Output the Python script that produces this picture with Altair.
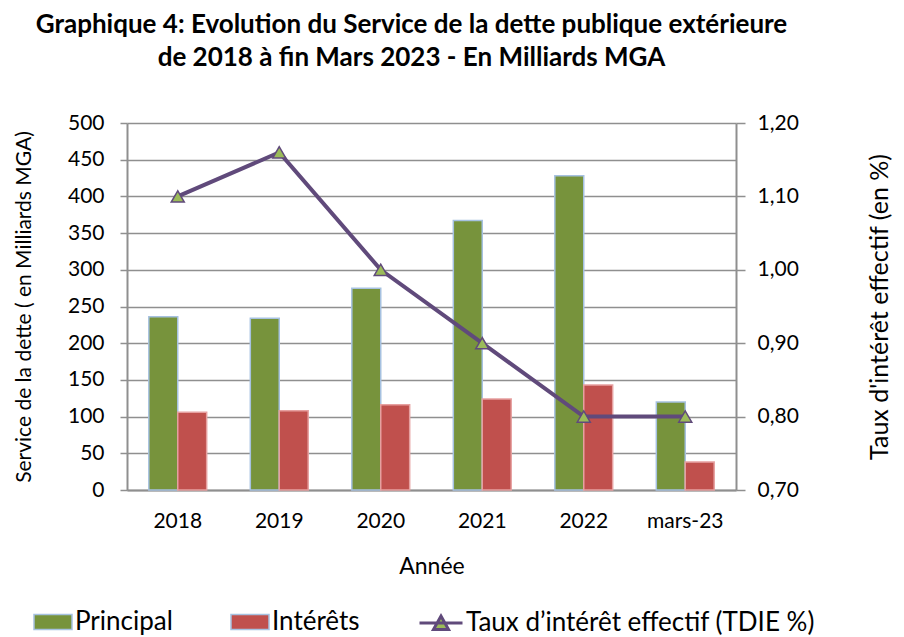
import altair as alt
import pandas as pd

annees = ["2018", "2019", "2020", "2021", "2022", "mars-23"]
principal = [236, 234, 275, 367, 428, 120]
interets = [106, 108, 116, 124, 143, 38]
taux = [1.10, 1.16, 1.00, 0.90, 0.80, 0.80]

serie_p = "Principal"
serie_i = "Intérêts"
serie_t = "Taux d’intérêt effectif (TDIE %)"

rows = []
for a, p, i in zip(annees, principal, interets):
    rows.append({"annee": a, "serie": serie_p, "valeur": p})
    rows.append({"annee": a, "serie": serie_i, "valeur": i})
bars_df = pd.DataFrame(rows)
line_df = pd.DataFrame({"annee": annees, "taux": taux, "s2": [serie_t] * len(annees)})

FONT = "Lato"
GRAY = "#8f8f8f"
xscale = alt.Scale(paddingInner=0.43, paddingOuter=0.215)
xenc = alt.X("annee:N", sort=annees, scale=xscale,
             axis=alt.Axis(title="Année", labelAngle=0, labelFontSize=21, titleFontSize=23,
                           titleFontWeight="normal", labelPadding=20, titlePadding=24,
                           ticks=False, domainColor=GRAY, domainWidth=2))

bars = alt.Chart(bars_df).mark_bar(strokeWidth=1.5).encode(
    x=xenc,
    xOffset=alt.XOffset("serie:N", sort=[serie_p, serie_i]),
    y=alt.Y("valeur:Q", scale=alt.Scale(domain=[0, 500], nice=False),
            axis=alt.Axis(title="Service de la dette ( en Milliards MGA)", values=list(range(0, 501, 50)),
                          labelFontSize=21, titleFontSize=21, titleFontWeight="normal",
                          tickSize=7, tickColor=GRAY, tickWidth=1.5, labelPadding=16,
                          titlePadding=33, grid=True, gridColor=GRAY, gridWidth=1.5,
                          domainColor=GRAY, domainWidth=2)),
    color=alt.Color("serie:N", scale=alt.Scale(domain=[serie_p, serie_i], range=["#77933c", "#c0504d"]),
                    legend=alt.Legend(title=None, orient="none", direction="horizontal",
                                      legendX=-94, legendY=479, labelFontSize=26, padding=0,
                                      labelLimit=500,
                                      symbolType="M-1,-0.395H1V0.395H-1Z", symbolSize=1444,
                                      symbolStrokeColor="#a6c1e0", symbolStrokeWidth=1.5,
                                      columnPadding=55, labelOffset=2)),
    stroke=alt.condition(alt.datum.serie == serie_p, alt.value("#a6c1e0"), alt.value("#e6a0a0")),
)

line = alt.Chart(line_df).mark_line(
    strokeWidth=4,
    point=alt.OverlayMarkDef(shape="triangle-up", filled=True, size=170, fill="#9bbb59",
                             stroke="#604a7b", strokeWidth=1.5, opacity=1),
).encode(
    x=alt.X("annee:N", sort=annees, scale=xscale),
    y=alt.Y("taux:Q", scale=alt.Scale(domain=[0.70, 1.20], nice=False),
            axis=alt.Axis(orient="right", title="Taux d'intérêt effectif (en %)",
                          values=[0.7, 0.8, 0.9, 1.0, 1.1, 1.2],
                          labelExpr="replace(format(datum.value, '.2f'), '.', ',')",
                          labelFontSize=21, titleFontSize=25, titleFontWeight="normal",
                          titleAngle=270, tickSize=9, tickColor=GRAY, tickWidth=1.5,
                          labelPadding=12, titlePadding=94, grid=False,
                          domainColor=GRAY, domainWidth=2)),
    stroke=alt.Stroke("s2:N", scale=alt.Scale(domain=[serie_t], range=["#604a7b"]),
                      legend=alt.Legend(title=None, orient="none", legendX=291, legendY=477,
                                        labelFontSize=26, padding=0, labelLimit=500,
                                        symbolType="M-1,0H1M-0.35,0.3L0,-0.32L0.35,0.3Z",
                                        symbolSize=1849, symbolFillColor="#9bbb59",
                                        symbolStrokeWidth=3, labelOffset=2)),
)

chart = alt.layer(bars, line).resolve_scale(y="independent").properties(
    width=609, height=367,
    autosize=alt.AutoSizeParams(type="none"),
    padding={"left": 119, "top": 115, "right": 160, "bottom": 147},
    title=alt.TitleParams(
        text=["Graphique 4: Evolution du Service de la dette publique extérieure",
              "de 2018 à fin Mars 2023 - En Milliards MGA"],
        fontSize=26, fontWeight="bold", anchor="middle", dx=-20, offset=41, lineHeight=33,
        color="black", font=FONT),
).configure(font=FONT).configure_axis(
    labelColor="black", titleColor="black", labelFont=FONT, titleFont=FONT
).configure_legend(labelFont=FONT, labelColor="black").configure_view(stroke=None)

chart.save("out.html", embed_options={"renderer": "svg", "actions": False})
